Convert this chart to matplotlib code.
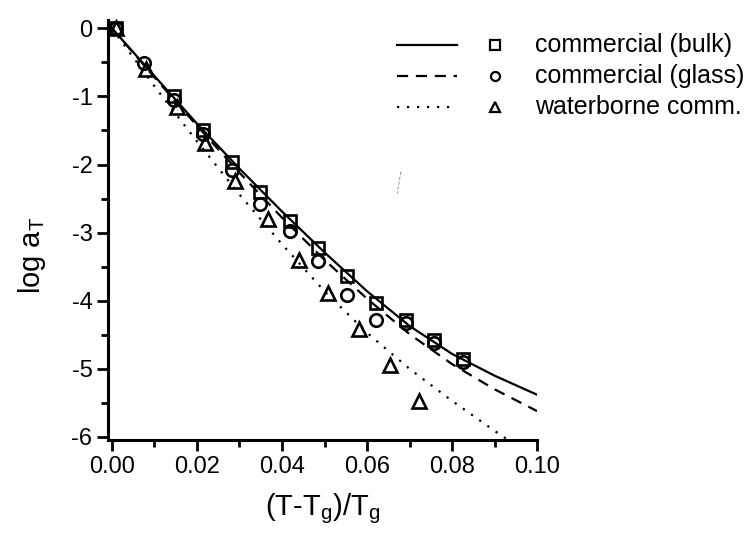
# coding: utf-8

"""Shift factors log aT versus the reduced temperature (T-Tg)/Tg for the
three commercial samples, with their fitted curves."""

from matplotlib import pyplot as plt
from matplotlib.lines import Line2D

bulk_x = [0.0009, 0.0145, 0.0213, 0.0282, 0.0349, 0.0418, 0.0485, 0.0553,
          0.0622, 0.0691, 0.0758, 0.0825]
bulk_y = [0.0, -1.00, -1.49, -1.96, -2.40, -2.83, -3.23, -3.64, -4.04, -4.28,
          -4.57, -4.85]

glass_x = [0.0009, 0.0076, 0.0145, 0.0213, 0.0282, 0.0349, 0.0418, 0.0485,
           0.0553, 0.0622, 0.0691, 0.0758, 0.0825]
glass_y = [0.0, -0.51, -1.05, -1.55, -2.08, -2.58, -2.97, -3.41, -3.91, -4.28,
           -4.33, -4.62, -4.90]

water_x = [0.0009, 0.0080, 0.0153, 0.0218, 0.0290, 0.0367, 0.0440, 0.0509,
           0.0580, 0.0653, 0.0722]
water_y = [0.0, -0.59, -1.16, -1.68, -2.24, -2.80, -3.40, -3.88, -4.42, -4.94,
           -5.47]

# Fitted curves
fit_x = [0.0, 0.01, 0.02, 0.03, 0.04, 0.05, 0.06, 0.07, 0.08, 0.09, 0.10]
bulk_fit = [0.0, -0.70, -1.40, -2.06, -2.69, -3.29, -3.86, -4.37, -4.78, -5.10,
            -5.38]
glass_fit = [0.0, -0.72, -1.43, -2.12, -2.78, -3.40, -3.97, -4.49, -4.93,
             -5.30, -5.62]
water_fit_x = [0.0, 0.01, 0.02, 0.03, 0.04, 0.05, 0.06, 0.07, 0.08, 0.09,
               0.095]
water_fit = [0.0, -0.85, -1.66, -2.44, -3.17, -3.86, -4.47, -5.00, -5.47,
             -5.91, -6.12]

labels = ['commercial (bulk)', 'commercial (glass)', 'waterborne comm.']
x_ticks = [0.00, 0.02, 0.04, 0.06, 0.08, 0.10]
y_ticks = [0, -1, -2, -3, -4, -5, -6]

plt.rcParams['font.family'] = ['Liberation Sans', 'DejaVu Sans']
plt.rcParams['axes.unicode_minus'] = False

fig = plt.figure(figsize=(7.48, 5.45), dpi=100)
ax = fig.add_axes([0.144, 0.192, 0.574, 0.771])

# Curves
ax.plot(fit_x, bulk_fit, color='black', lw=1.6, ls='-')
ax.plot(fit_x, glass_fit, color='black', lw=1.6, ls=(0, (5, 3.5)))
ax.plot(water_fit_x, water_fit, color='black', lw=1.6, ls=(0, (1, 3.5)))

# Measured points
marker_style = dict(ls='none', mfc='none', mec='black', mew=1.9, clip_on=False)
ax.plot(bulk_x, bulk_y, marker='s', ms=8.5, **marker_style)
ax.plot(glass_x, glass_y, marker='o', ms=9, **marker_style)
ax.plot(water_x, water_y, marker='^', ms=10.5, **marker_style)

ax.set_xlim(-0.001, 0.10)
ax.set_ylim(-6.05, 0.12)
ax.set_xticks(x_ticks)
ax.set_xticklabels([f'{t:.2f}' for t in x_ticks])
ax.set_yticks(y_ticks)
ax.set_yticklabels([str(t) for t in y_ticks])
ax.set_xticks([0.01, 0.03, 0.05, 0.07, 0.09], minor=True)
ax.set_yticks([-0.5, -1.5, -2.5, -3.5, -4.5, -5.5], minor=True)

for side in ('top', 'right'):
  ax.spines[side].set_visible(False)
for side in ('left', 'bottom'):
  ax.spines[side].set_linewidth(2.2)
ax.tick_params(which='major', direction='out', length=8, width=2,
               labelsize=17, pad=3)
ax.tick_params(which='minor', direction='out', length=5, width=2)

ax.set_xlabel('(T-T$_\\mathregular{g}$)/T$_\\mathregular{g}$', fontsize=21,
              labelpad=10)
ax.set_ylabel('log a$_\\mathregular{T}$', fontsize=21)
ax.yaxis.set_label_coords(-0.14, 0.44)

# Legend drawn by hand: line sample, marker, then text
line_styles = ['-', (0, (5, 3.5)), (0, (1, 3.5))]
markers = ['s', 'o', '^']
rows_y = [0.918, 0.861, 0.804]
for style, marker, label, y in zip(line_styles, markers, labels, rows_y):
  fig.add_artist(Line2D([0.531, 0.611], [y, y], color='black', lw=1.6,
                        ls=style))
  fig.add_artist(Line2D([0.662], [y], marker=marker, ms=6.5, mfc='none',
                        mec='black', mew=1.6))
  fig.text(0.715, y, label, fontsize=18, va='center', ha='left')

# Stray mark from the scan
fig.add_artist(Line2D([0.536, 0.531], [0.685, 0.645], color='gray', lw=0.6,
                      ls=(0, (4, 2))))

plt.savefig('out.png', dpi=100)
